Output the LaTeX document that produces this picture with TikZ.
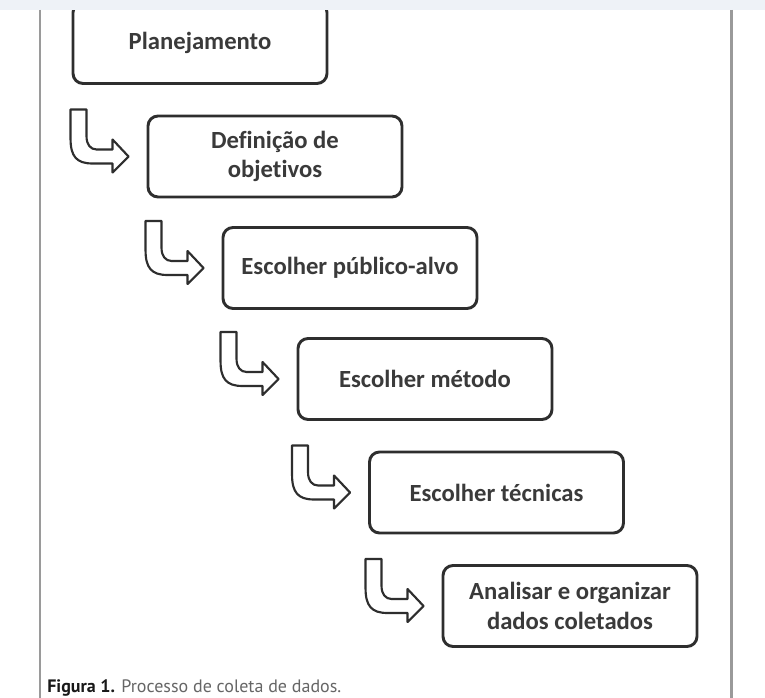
\documentclass[tikz,border=0pt]{standalone}
\usepackage{fontspec}
\setmainfont{Carlito}[Ligatures={NoCommon}]
\newfontfamily\legenda{PT Sans}
\usetikzlibrary{positioning}
\definecolor{faixa}{HTML}{EEF2F7}
\definecolor{borda}{HTML}{9A9A9A}
\definecolor{traco}{HTML}{2E2E2E}
\definecolor{texto}{HTML}{3A3A3A}
\tikzset{etapa/.style={draw=traco,line width=2.2pt,rounded corners=7.5pt,
    minimum width=190.5pt,minimum height=60.75pt,align=center,text=texto,
    font=\fontsize{18.5}{22}\selectfont\bfseries}}
\tikzset{seta/.pic={
    \draw[traco,line width=1.6pt,line join=round,fill=white]
      (-76,-47)--(-76,-18) .. controls (-76,0) and (-70,7) .. (-54,7)--(-34,7)
      --(-34,16)--(-18,0)--(-34,-17)--(-34,-7)--(-50,-7)
      .. controls (-56,-7) and (-60,-12) .. (-60,-20)--(-60,-47)--cycle;}}
\begin{document}
\begin{tikzpicture}[x=0.75pt,y=-0.75pt]
  \useasboundingbox (0,0) rectangle (765,698);
  \fill[white] (0,0) rectangle (765,698);
  % etapas
  \node[etapa] (p1) at (200,43) {Planejamento};
  \node[etapa] (p2) at (275,156.5) {Definição de\\objetivos};
  \node[etapa] (p3) at (350,268) {Escolher público-alvo};
  \node[etapa] (p4) at (425,379) {Escolher método};
  \node[etapa] (p5) at (496.5,492.5) {Escolher técnicas};
  \node[etapa] (p6) at (570,606) {Analisar e organizar\\dados coletados};
  % setas
  \foreach \n in {p2,p3,p4,p5,p6}
    \pic at (\n.west) {seta};
  % pagina
  \fill[faixa] (0,0) rectangle (765,10);
  \draw[borda,line width=1.6pt] (40,10) -- (40,698);
  \draw[borda,line width=1.6pt] (731.5,10) -- (731.5,698);
  \node[anchor=base west,inner sep=0pt,text=texto,
    font=\legenda\fontsize{13.5}{15}\selectfont] (leg) at (47,693)
    {\textbf{\color{black!90}Figura 1.} \color{black!60}Processo de coleta de dados.};
\end{tikzpicture}
\end{document}
